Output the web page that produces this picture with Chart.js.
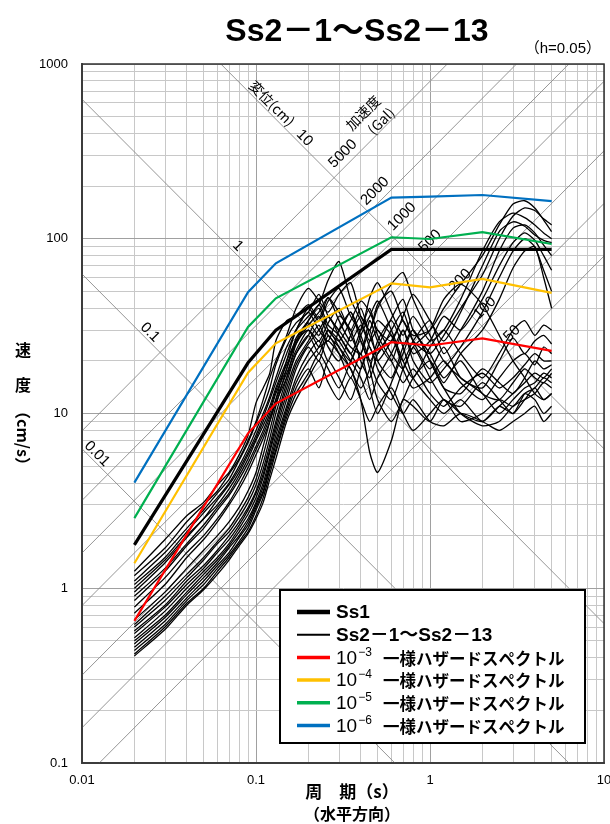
<!DOCTYPE html>
<html><head><meta charset="utf-8">
<script src="https://cdn.jsdelivr.net/npm/chart.js@4.4.1/dist/chart.umd.min.js"></script>
<style>html,body{margin:0;padding:0;background:#fff;}#wrap{width:610px;height:824px;position:relative;}</style>
</head><body><div id="wrap"><canvas id="c" width="610" height="824"></canvas></div>
<script>
// ---------- data ----------
const periods = [0.02,0.03,0.04,0.05,0.06,0.07,0.08,0.09,0.1,0.11,0.12,0.13,0.15,0.17,0.2,0.23,0.26,0.3,0.35,0.4,0.45,0.5,0.6,0.7,0.8,1.0,1.2,1.5,2.0,2.5,3.0,3.5,4.0,4.5,5.0];
const ss2_u1 = [1.25,1.9,2.6,3.1,3.9,4.6,5.8,7.5,11.5,14,17,26,34,36,42,35,46,38,30,40,28,22,30,38,26,18,24,16,14,20,27,22,26,28,25];
const ss2_u2 = [1.18,1.7,2.4,3.0,3.6,4.5,5.5,7.0,9.0,12,16,20,28,40,52,44,38,48,56,36,30,42,50,34,28,30,40,55,80,120,158,165,150,128,110];
const ss2_u3 = [1.1,1.6,2.2,2.8,3.5,4.2,5.4,6.8,8.8,11,14,19,27,33,38,48,36,30,24,22,30,20,16,24,30,20,14,13,18,15,13,16,20,18,19];
const ss2_u4 = [1.05,1.5,2.1,2.7,3.3,4.0,5.0,6.3,8.0,10,12.5,16,24,30,36,42,58,74,45,34,26,30,22,18,24,16,12,11,15,12,10,13,14,16,15];
const ss2_u5 = [1.0,1.45,2.0,2.5,3.2,3.9,4.8,6.0,7.5,9.5,12,15,22,30,40,34,44,52,36,30,46,56,38,28,36,26,30,45,85,125,140,132,120,108,100];
const ss2_u6 = [0.95,1.4,1.95,2.5,3.0,3.7,4.6,5.8,7.2,9,11,14,20,26,30,24,26,22,18,12,6,4.6,7,12,11,9,12,10,9,11,10,12,14,12,13];
const ss2_u7 = [0.9,1.3,1.8,2.3,2.9,3.5,4.4,5.5,7.0,8.5,10.5,13.5,19,25,33,28,36,30,38,26,20,24,35,45,30,22,16,20,13,12,15,18,16,15,17];
const ss2_u8 = [0.85,1.25,1.75,2.2,2.8,3.4,4.2,5.2,6.5,8,10,13,18,26,34,40,30,26,34,44,38,30,26,36,48,34,26,38,70,110,125,118,105,98,95];
const ss2_u9 = [0.78,1.15,1.6,2.0,2.5,3.1,3.9,4.9,6.2,7.6,9.5,12,17,23,30,26,33,40,28,22,34,26,20,30,22,26,36,30,45,70,95,108,98,80,66];
const ss2_u10 = [0.72,1.05,1.5,1.9,2.4,3.0,3.7,4.6,5.8,7.2,9,11.5,16,22,28,36,28,24,20,28,36,44,30,20,16,24,30,22,16,22,30,34,28,32,30];
const ss2_l1 = [0.66,0.95,1.3,1.65,2.0,2.4,2.9,3.6,4.6,6.5,9,12,20,30,38,30,26,36,30,20,16,22,28,18,14,16,20,15,12,16,20,22,19,24,22];
const ss2_l2 = [0.62,0.9,1.2,1.5,1.85,2.2,2.7,3.3,4.2,5.8,8,11,18,27,34,42,32,28,22,30,40,28,20,15,18,13,11,14,17,14,16,19,22,20,20];
const ss2_l3 = [0.6,0.85,1.15,1.45,1.8,2.1,2.55,3.1,3.9,5.2,7.2,10,16,25,32,38,46,34,26,32,24,20,26,34,26,22,28,40,62,100,135,150,145,130,120];
const ss2_l4 = [0.57,0.8,1.1,1.35,1.65,2.0,2.4,2.9,3.6,4.8,6.6,9,15,22,28,22,30,24,18,14,18,26,34,24,16,12,10,12,9,11,13,15,17,16,18];
const ss2_l5 = [0.55,0.78,1.05,1.3,1.6,1.9,2.3,2.8,3.5,4.5,6.2,8.5,14,20,26,32,24,20,28,36,30,40,55,64,45,28,20,16,13,10,12,14,15,17,16];
const ss2_l6 = [0.52,0.74,1.0,1.25,1.5,1.8,2.2,2.65,3.3,4.3,6,8,13,19,25,30,36,28,22,18,26,34,28,20,26,34,22,30,50,85,115,120,108,92,80];
const ss2_l7 = [0.5,0.7,0.95,1.2,1.45,1.75,2.1,2.5,3.1,4.0,5.5,7.5,12,18,24,20,28,22,16,22,14,10,15,22,30,20,14,10,8.5,9,11,12,13,15,14];
const ss2_l8 = [0.48,0.68,0.92,1.15,1.4,1.7,2.0,2.4,3.0,3.8,5.2,7,11,16,22,26,20,30,38,28,20,15,12,18,24,30,45,55,42,28,20,16,13,12,13];
const ss2_l9 = [0.46,0.65,0.88,1.1,1.35,1.6,1.95,2.3,2.9,3.6,5.0,6.6,10.5,15,20,24,30,26,20,16,12,16,22,30,20,15,18,24,38,60,85,100,90,66,50];
const ss2_l10 = [0.44,0.62,0.85,1.05,1.3,1.55,1.85,2.2,2.8,3.5,4.8,6.2,10,14,18,14,20,16,12,18,24,18,13,10,12,9,8.5,10,9,8,9,10,11,9,10];
const ss2_l11 = [0.42,0.6,0.82,1.0,1.25,1.5,1.8,2.1,2.6,3.3,4.5,6,9.5,13,17,22,18,14,20,26,18,12,9,12,16,20,15,22,30,45,68,85,90,60,40];
const ss2_l12 = [0.41,0.58,0.8,0.98,1.2,1.45,1.75,2.05,2.5,3.1,4.2,5.5,9,12,16,20,15,12,16,12,9,11,14,10,8,10,12,9,10,12,11,13,12,10,11];
const ss2Series = [ss2_u1,ss2_u2,ss2_u3,ss2_u4,ss2_u5,ss2_u6,ss2_u7,ss2_u8,ss2_u9,ss2_u10,ss2_l1,ss2_l2,ss2_l3,ss2_l4,ss2_l5,ss2_l6,ss2_l7,ss2_l8,ss2_l9,ss2_l10,ss2_l11,ss2_l12];

const ss1Periods = [0.02,0.09,0.13,0.6,5.0];
const ss1Values = [1.77,19.5,30,87,87];

const hazardPeriods = [0.02,0.09,0.13,0.6,1.0,2.0,5.0];
const hazard1e3 = [0.65,7.7,11.4,25.6,24.5,26.9,22.8];
const hazard1e4 = [1.39,17.1,25.2,55.6,52.7,58.9,49];
const hazard1e5 = [2.52,31.3,45.6,102,99.7,109,93.3];
const hazard1e6 = [4.02,49.5,72.4,172,174,178,164];

const dispLines = [0.01,0.1,1,10];              // cm
const accLines = [50,100,200,500,1000,2000,5000]; // Gal

const xTickLabels = {0.01:'0.01',0.1:'0.1',1:'1',10:'10'};
const yTickLabels = {0.1:'0.1',1:'1',10:'10',100:'100',1000:'1000'};

// label anchors along the tripartite lines
const dispLabelAt = [{d:10,t:0.19,text:'10'},{d:1,t:0.0788,text:'1'},{d:0.1,t:0.0246,text:'0.1'},{d:0.01,t:0.0122,text:'0.01'}];
const accLabelAt = [{a:5000,t:0.316},{a:2000,t:0.483},{a:1000,t:0.69},{a:500,t:1.0},{a:200,t:1.49},{a:100,t:2.07},{a:50,t:2.96}];

// ---------- build ----------
const TWO_PI = 2*Math.PI;
const pts = (xs, ys) => xs.map((x,i)=>({x:x,y:ys[i]}));
const datasets = [];
dispLines.forEach(d=>{
  datasets.push({data:[{x:0.01,y:TWO_PI*d/0.01},{x:10,y:TWO_PI*d/10}],borderColor:'#8a8a8a',borderWidth:0.9,pointRadius:0,tension:0,order:100});
});
accLines.forEach(a=>{
  datasets.push({data:[{x:0.01,y:a*0.01/TWO_PI},{x:10,y:a*10/TWO_PI}],borderColor:'#8a8a8a',borderWidth:0.9,pointRadius:0,tension:0,order:100});
});
ss2Series.forEach(s=>{
  datasets.push({data:pts(periods,s),borderColor:'#000',borderWidth:1.3,pointRadius:0,tension:0.22,order:50});
});
datasets.push({data:pts(ss1Periods,ss1Values),borderColor:'#000',borderWidth:3.2,pointRadius:0,tension:0,order:5});
datasets.push({data:pts(hazardPeriods,hazard1e3),borderColor:'#ff0000',borderWidth:2.2,pointRadius:0,tension:0,order:1});
datasets.push({data:pts(hazardPeriods,hazard1e4),borderColor:'#ffc000',borderWidth:2.2,pointRadius:0,tension:0,order:2});
datasets.push({data:pts(hazardPeriods,hazard1e5),borderColor:'#00b050',borderWidth:2.2,pointRadius:0,tension:0,order:3});
datasets.push({data:pts(hazardPeriods,hazard1e6),borderColor:'#0070c0',borderWidth:2.2,pointRadius:0,tension:0,order:4});

function gridValues(e0,e1){ const v=[]; for(let e=e0;e<e1;e++){ for(let k=1;k<10;k++) v.push(+(k*Math.pow(10,e)).toPrecision(6)); } v.push(Math.pow(10,e1)); return v; }
const isDecade = v => Math.abs(Math.log10(v)-Math.round(Math.log10(v)))<1e-6;
const gridColor = c => (c.tick && isDecade(c.tick.value)) ? '#a0a0a0' : '#c8c8c8';

const LAT = "'Liberation Sans','Noto Sans CJK JP',sans-serif";
const JP = "'Noto Sans CJK JP','Liberation Sans',sans-serif";

const deco = {
  id:'deco',
  beforeDatasetsDraw(chart){
    const {ctx, scales:{x,y}} = chart;
    ctx.save();
    ctx.fillStyle='#000';
    ctx.textAlign='center'; ctx.textBaseline='middle';
    ctx.font = "15px "+LAT;
    dispLabelAt.forEach(l=>{
      const px=x.getPixelForValue(l.t), py=y.getPixelForValue(TWO_PI*l.d/l.t)-10;
      ctx.save(); ctx.translate(px,py); ctx.rotate(Math.PI/4); ctx.fillText(l.text,0,0); ctx.restore();
    });
    accLabelAt.forEach(l=>{
      const px=x.getPixelForValue(l.t), py=y.getPixelForValue(l.a*l.t/TWO_PI)-15;
      ctx.save(); ctx.translate(px,py); ctx.rotate(-Math.PI/4); ctx.fillText(String(l.a),0,0); ctx.restore();
    });
    // group captions
    ctx.font = "14px "+JP;
    let px=x.getPixelForValue(0.1236), py=y.getPixelForValue(TWO_PI*10/0.1236)-12;
    ctx.save(); ctx.translate(px,py); ctx.rotate(Math.PI/4); ctx.fillText('変位(cm)',0,0); ctx.restore();
    px=x.getPixelForValue(0.412); py=y.getPixelForValue(525);
    ctx.save(); ctx.translate(px,py); ctx.rotate(-Math.PI/4); ctx.fillText('加速度',0,0); ctx.restore();
    px=x.getPixelForValue(0.523); py=y.getPixelForValue(472);
    ctx.save(); ctx.translate(px,py); ctx.rotate(-Math.PI/4); ctx.fillText('(Gal)',0,0); ctx.restore();
    ctx.restore();
  },
  afterDraw(chart){
    const {ctx, chartArea:a} = chart;
    ctx.save();
    // frame
    ctx.strokeStyle='#333'; ctx.lineWidth=1.5;
    ctx.strokeRect(a.left, a.top, a.right-a.left, a.bottom-a.top);
    // title
    ctx.fillStyle='#000'; ctx.textAlign='center'; ctx.textBaseline='alphabetic';
    ctx.font = "bold 32px "+LAT;
    ctx.fillText('Ss2－1～Ss2－13', 357, 41);
    ctx.font = "15px "+LAT;
    ctx.textAlign='right';
    ctx.fillText('（h=0.05）', 601, 53);
    // axis titles
    ctx.textAlign='center'; ctx.textBaseline='middle';
    ctx.font = "bold 17px "+JP;
    ctx.fillText('周　期（s）', 352, 792);
    ctx.font = "bold 16px "+JP;
    ctx.fillText('（水平方向）', 352, 814);
    ctx.font = "bold 16px "+JP;
    ctx.fillText('速', 23, 350);
    ctx.fillText('度', 23, 385);
    ctx.save(); ctx.translate(23, 438); ctx.rotate(Math.PI/2); ctx.fillText('（cm/s）',0,0); ctx.restore();
    // legend
    const bx=280, by=590, bw=305, bh=153;
    ctx.fillStyle='#fff'; ctx.fillRect(bx,by,bw,bh);
    ctx.strokeStyle='#000'; ctx.lineWidth=2; ctx.strokeRect(bx,by,bw,bh);
    const rows = [
      {c:'#000',w:4.5,t:'Ss1'},
      {c:'#000',w:2,t:'Ss2－1～Ss2－13'},
      {c:'#ff0000',w:3.5,sup:'−3'},
      {c:'#ffc000',w:3.5,sup:'−4'},
      {c:'#00b050',w:3.5,sup:'−5'},
      {c:'#0070c0',w:3.5,sup:'−6'}
    ];
    rows.forEach((r,i)=>{
      const ry = 612 + i*22.7;
      ctx.strokeStyle=r.c; ctx.lineWidth=r.w; ctx.lineCap='butt';
      ctx.beginPath(); ctx.moveTo(297,ry); ctx.lineTo(330,ry); ctx.stroke();
      ctx.fillStyle='#000'; ctx.textAlign='left'; ctx.textBaseline='middle';
      if(r.t){
        ctx.font="bold 19px "+LAT; ctx.fillText(r.t,336,ry+1);
      } else {
        ctx.font="19px "+LAT; ctx.fillText('10',336,ry+1);
        const w=ctx.measureText('10').width;
        ctx.font="12px "+LAT; ctx.fillText(r.sup,336+w+1,ry-5);
        ctx.font="bold 16.5px "+JP; ctx.fillText('一様ハザードスペクトル',383,ry+1);
      }
    });
    ctx.restore();
  }
};

new Chart(document.getElementById('c'),{
  type:'line',
  data:{datasets:datasets},
  options:{
    responsive:false, animation:false, devicePixelRatio:1,
    layout:{padding:{left:0,right:6,top:64,bottom:0}},
    plugins:{legend:{display:false},tooltip:{enabled:false},title:{display:false}},
    scales:{
      x:{type:'logarithmic',min:0.01,max:10,
        afterBuildTicks(s){ s.ticks = gridValues(-2,1).map(v=>({value:v})); },
        afterFit(s){ s.height=61; s.paddingLeft=0; s.paddingRight=0; },
        ticks:{autoSkip:false,maxRotation:0,minRotation:0,padding:10,color:'#000',font:{size:13,family:LAT},
          callback:(v)=> isDecade(v) ? xTickLabels[+v.toPrecision(3)] : ''},
        grid:{color:gridColor,lineWidth:1,drawTicks:false},
        border:{display:true,color:'#595959',width:2}
      },
      y:{type:'logarithmic',min:0.1,max:1000,
        afterBuildTicks(s){ s.ticks = gridValues(-1,3).map(v=>({value:v})); },
        afterFit(s){ s.width=82; s.paddingTop=0; s.paddingBottom=0; },
        ticks:{autoSkip:false,padding:14,color:'#000',font:{size:13,family:LAT},
          callback:(v)=> isDecade(v) ? yTickLabels[+v.toPrecision(3)] : ''},
        grid:{color:gridColor,lineWidth:1,drawTicks:false},
        border:{display:true,color:'#595959',width:2}
      }
    }
  },
  plugins:[deco]
});
</script></body></html>
